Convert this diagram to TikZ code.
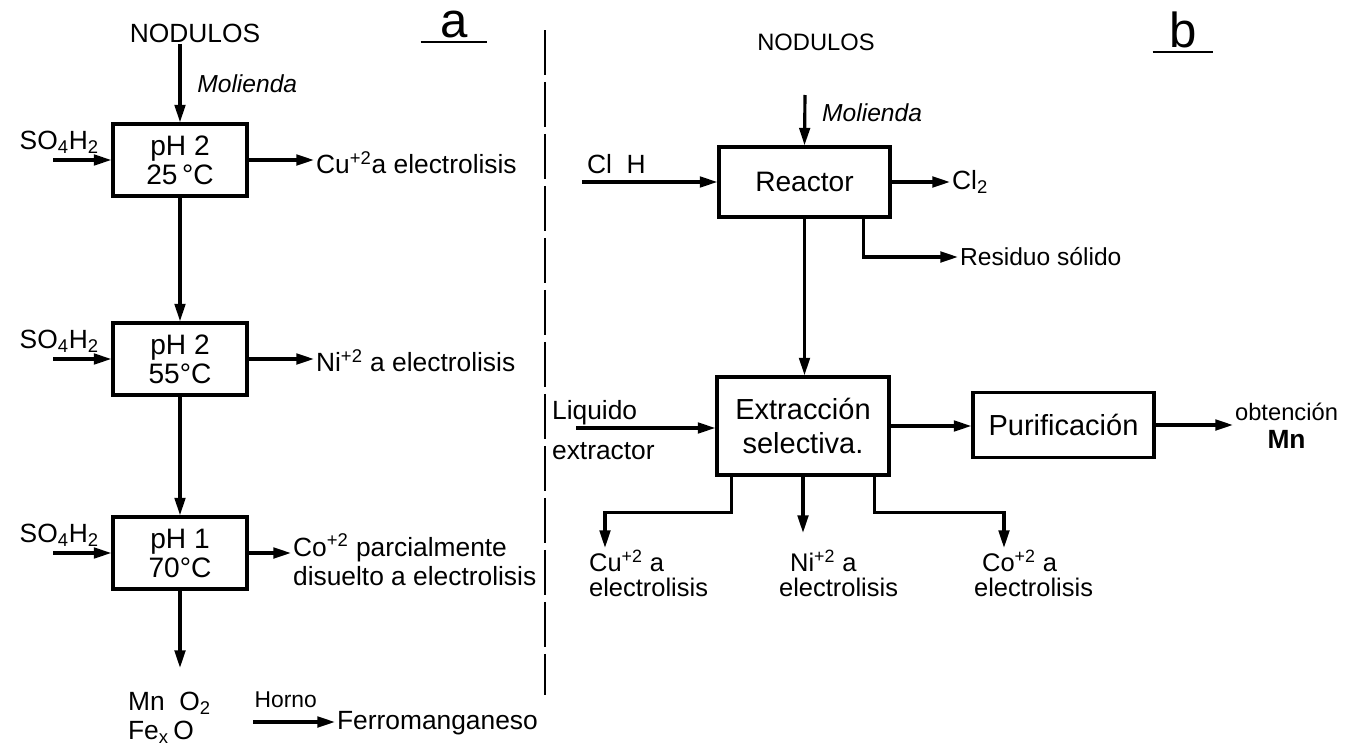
\documentclass[tikz,border=0pt]{standalone}
\usepackage{fontspec}
\setmainfont{Liberation Sans}
\usetikzlibrary{arrows.meta, positioning, calc}

\begin{document}
\begin{tikzpicture}[x=0.02cm, y=-0.02cm,
    flow/.style={-{Triangle[length=10pt, width=6pt]}, line width=1.8pt},
    proc/.style={draw, line width=1.8pt, minimum width=2.68cm, minimum height=1.44cm, align=center, font=\fontsize{16}{16.5}\selectfont},
    lbl/.style={font=\fontsize{15}{16.5}\selectfont, inner sep=1pt},
    small/.style={font=\fontsize{14.5}{14}\selectfont, inner sep=1pt},
    note/.style={font=\fontsize{14}{15}\selectfont\itshape, inner sep=1pt},
    tag/.style={font=\fontsize{28}{30}\selectfont, inner sep=2pt},
  ]
  \useasboundingbox (0,0) rectangle (1353,747);

  % --- a: lixiviacion en tres etapas
  \node[lbl] (nodA) at (195,33) {NODULOS};
  \node[tag, anchor=south, minimum width=1.32cm] (tagA) at (454,42) {a};
  \draw[line width=1.4pt] (tagA.south west) -- (tagA.south east);

  \node[proc] (b1) at (180,160) {pH 2\\25\,°C};
  \node[proc] (b2) at (180,359) {pH 2\\55°C};
  \node[proc] (b3) at (180,553) {pH 1\\70°C};

  \draw[flow] (nodA.south -| b1.north) -- (b1.north) node[note, midway, right=0.28cm] (molA) {Molienda};
  \draw[flow] (b1) -- (b2);
  \draw[flow] (b2) -- (b3);

  \foreach \p in {b1,b2,b3} {
    \coordinate (\p in) at ([xshift=-1.16cm]\p.west);
    \draw[flow] (\p in) -- (\p.west);
    \node[lbl, anchor=south] (\p acid) at ([xshift=0.12cm, yshift=0.08cm]\p in) {SO\textsubscript{4}H\textsubscript{2}};
  }

  \node[lbl, anchor=west] (cuA) at (314,163) {Cu\textsuperscript{+2}a electrolisis};
  \node[lbl, anchor=west] (niA) at (314,361) {Ni\textsuperscript{+2} a electrolisis};
  \node[lbl, anchor=north west, align=left] (coA) at (291,532) {Co\textsuperscript{+2} parcialmente\\disuelto a electrolisis};
  \draw[flow] (b1.east) -- (b1.east -| cuA.west);
  \draw[flow] (b2.east) -- (b2.east -| niA.west);
  \draw[flow] (b3.east) -- (b3.east -| coA.west);

  \node[lbl, anchor=north west, align=left] (mnA) at (126,690) {Mn\ \ O\textsubscript{2}\\Fe\textsubscript{x}\,O};
  \draw[flow] (b3.south) -- ([yshift=0.44cm]b3.south |- mnA.north);

  \node[lbl, anchor=west] (feA) at (335,723) {Ferromanganeso};
  \coordinate (hornoIn) at (253,722);
  \draw[flow] (hornoIn) -- (hornoIn -| feA.west) node[pos=0, above right, font=\fontsize{13}{14}\selectfont, inner xsep=0pt, inner ysep=7pt] (hornoA) {Horno};

  % separacion
  \draw[line width=1.2pt, dash pattern=on 0.9cm off 0.14cm] (545,30) -- (545,695);

  % --- b: via cloruro
  \node[lbl, font=\fontsize{13.5}{15}\selectfont] (nodB) at (816,42) {NODULOS};
  \node[tag, anchor=south, minimum width=1.2cm] (tagB) at (1183,52) {b};
  \draw[line width=1.4pt] (tagB.south west) -- (tagB.south east);

  \node[proc, minimum width=3.42cm, minimum height=1.4cm] (reac) at (804.5,182) {Reactor};
  \coordinate (molIn) at (805,95);
  \draw[flow] (molIn) -- (reac.north) node[note, pos=0.35, right=0.28cm] (molB) {Molienda};

  \coordinate (clIn) at (582,182);
  \draw[flow] (clIn) -- (reac.west);
  \node[lbl, anchor=south west] (clA) at (585,176) {Cl\ \ H};

  \node[lbl, anchor=west] (clB) at (950,182) {Cl\textsubscript{2}};
  \draw[flow] (reac.east) -- (clB.west);

  \node[lbl, font=\fontsize{14}{15}\selectfont, anchor=west] (resB) at (958,257) {Residuo sólido};
  \draw[flow] ([xshift=-0.56cm]reac.south east) |- (resB.west);

  \node[proc, minimum width=3.44cm, minimum height=1.96cm, font=\fontsize{16.5}{19}\selectfont] (ext) at (803,426) {Extracción\\selectiva.};
  \draw[flow] (reac.south) -- (reac.south |- ext.north);

  \coordinate (liqIn) at (576,428);
  \draw[flow] (liqIn) -- (ext.west |- liqIn);
  \node[lbl, anchor=west, align=left] (liqA) at (550,430) {Liquido\\[6pt]extractor};

  \node[proc, minimum width=3.62cm, minimum height=1.3cm, font=\fontsize{16.5}{18}\selectfont] (pur) at (1063.5,425) {Purificación};
  \draw[flow] (ext.east) -- (ext.east -| pur.west);

  \node[anchor=west, align=center, inner sep=1pt, font=\fontsize{13.5}{16}\selectfont] (mnB) at (1233,426) {obtención\\{\fontsize{15}{16}\selectfont\bfseries Mn}};
  \draw[flow] (pur.east) -- (pur.east -| mnB.west);

  \node[small, anchor=north west, align=left] (cuB) at (587,548) {Cu\textsuperscript{+2} a\\electrolisis};
  \node[small, anchor=north west, align=left] (niB) at (777,548) {\hspace{0.22cm}Ni\textsuperscript{+2} a\\electrolisis};
  \node[small, anchor=north west, align=left] (coB) at (972,548) {\hspace{0.16cm}Co\textsuperscript{+2} a\\electrolisis};

  \draw[flow] ([xshift=0.32cm]ext.south west) -- ++(0,36) -| ([xshift=0.36cm]cuB.north west);
  \draw[flow] (ext.south) -- ([yshift=0.3cm]ext.south |- niB.north);
  \draw[flow] ([xshift=-0.32cm]ext.south east) -- ++(0,36) -| ([xshift=0.64cm]coB.north west);
\end{tikzpicture}
\end{document}
